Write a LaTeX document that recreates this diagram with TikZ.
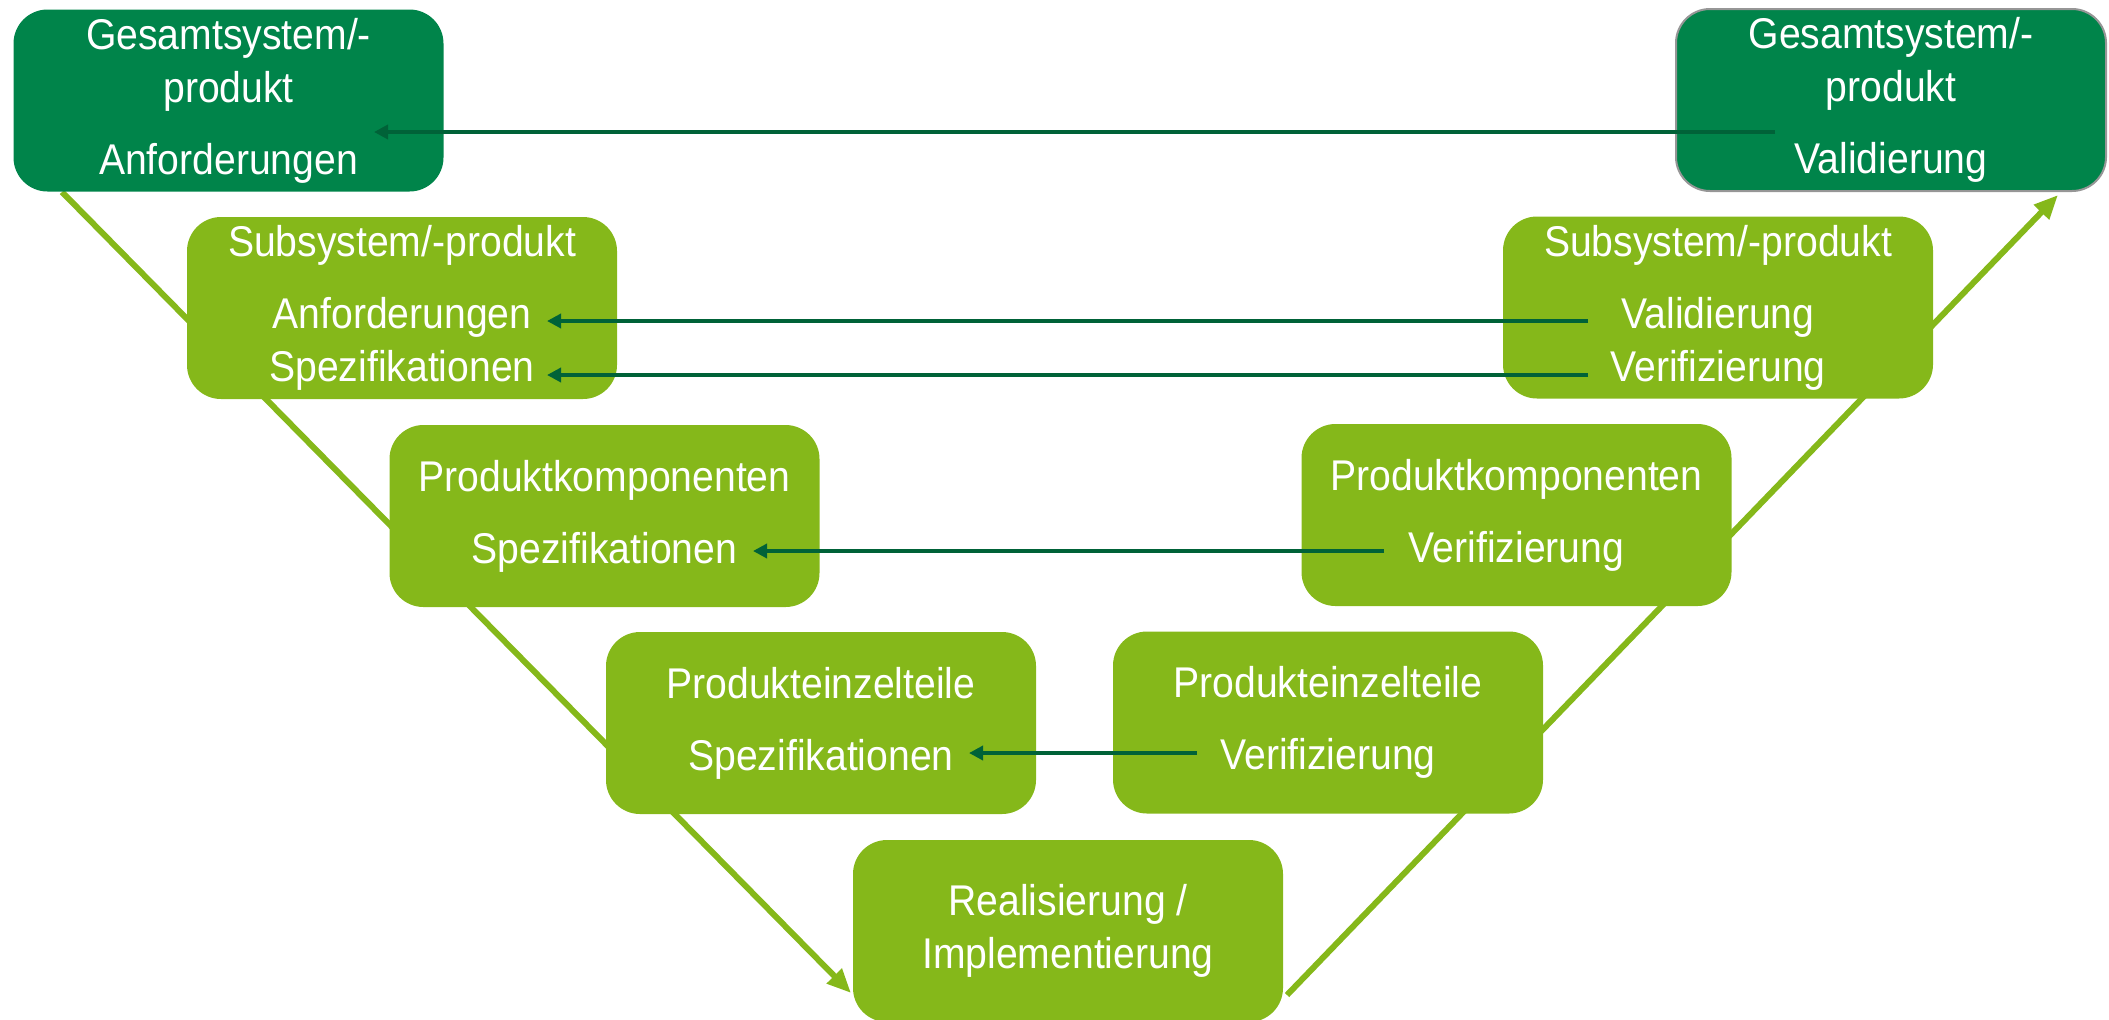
\documentclass[tikz,border=0pt]{standalone}
\usepackage{fontspec}
\setmainfont{Liberation Sans}[FakeStretch=0.91]
\usetikzlibrary{arrows.meta}
\definecolor{dkgreen}{RGB}{0,132,74}
\definecolor{ltgreen}{RGB}{133,184,26}
\definecolor{arrgreen}{RGB}{0,98,56}
\definecolor{brdgray}{RGB}{150,150,150}
\begin{document}
\begin{tikzpicture}[x=0.5pt,y=-0.5pt,
  vbox/.style={rectangle, rounded corners=17pt, minimum width=215pt, minimum height=91pt,
    inner sep=0pt, text=white, align=center, font=\fontsize{21.5pt}{26.5pt}\selectfont},
  dkbox/.style={vbox, fill=dkgreen},
  ltbox/.style={vbox, fill=ltgreen},
  vline/.style={draw=ltgreen, line width=3pt, -{Triangle[length=12pt,width=10pt]}},
  fb/.style={draw=arrgreen, line width=2pt, -{Triangle[length=7pt,width=7pt]}}]
\useasboundingbox (0,0) rectangle (2109,1019);
% V lines
\coordinate (vl1) at (62,192);
\coordinate (vl2) at (851,993);
\coordinate (vr1) at (1287,995);
\coordinate (vr2) at (2058,195);
\draw[vline] (vl1) -- (vl2);
\draw[vline] (vr1) -- (vr2);
% boxes
\node[dkbox] (b1) at (228.5,100.5) {Gesamtsystem/-\\produkt\\[9.5pt]Anforderungen};
\node[dkbox, draw=brdgray, line width=1pt] (b2) at (1891,100) {Gesamtsystem/-\\produkt\\[9.5pt]Validierung};
\node[ltbox] (b3) at (402,308) {Subsystem/-produkt\\[9.5pt]Anforderungen\\Spezifikationen};
\node[ltbox] (b4) at (1718,307.5) {Subsystem/-produkt\\[9.5pt]Validierung\\Verifizierung};
\node[ltbox] (b5) at (604.5,516) {Produktkomponenten\\[9.5pt]Spezifikationen};
\node[ltbox] (b6) at (1516.5,515) {Produktkomponenten\\[9.5pt]Verifizierung};
\node[ltbox] (b7) at (821,723) {Produkteinzelteile\\[9.5pt]Spezifikationen};
\node[ltbox] (b8) at (1328,722.5) {Produkteinzelteile\\[9.5pt]Verifizierung};
\node[ltbox] (b9) at (1068,931) {Realisierung /\\Implementierung};
% feedback arrows
\coordinate (a1s) at (1775,132); \coordinate (a1e) at (374,132);
\coordinate (a2s) at (1588,321); \coordinate (a2e) at (547,321);
\coordinate (a3s) at (1588,375); \coordinate (a3e) at (547,375);
\coordinate (a4s) at (1384,551); \coordinate (a4e) at (753,551);
\coordinate (a5s) at (1197,753); \coordinate (a5e) at (969,753);
\draw[fb] (a1s) -- (a1e);
\draw[fb] (a2s) -- (a2e);
\draw[fb] (a3s) -- (a3e);
\draw[fb] (a4s) -- (a4e);
\draw[fb] (a5s) -- (a5e);
\end{tikzpicture}
\end{document}
